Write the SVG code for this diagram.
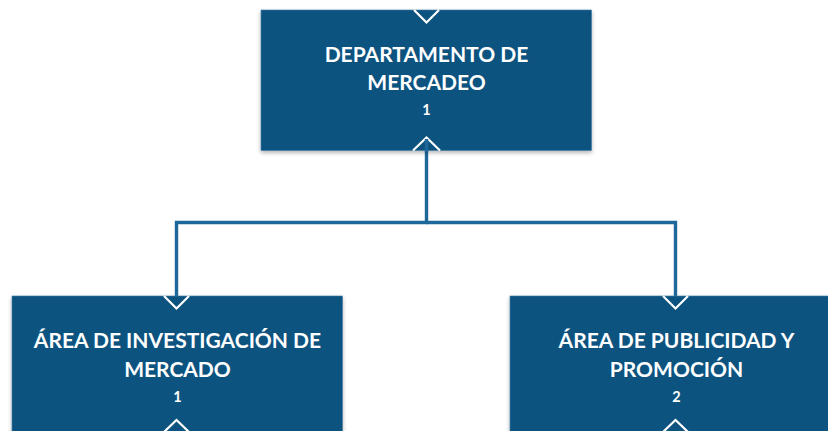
<svg xmlns="http://www.w3.org/2000/svg" width="828" height="431" viewBox="0 0 828 431">
<defs>
<style>
.box{fill:#11537f;stroke:#3f7aa3;stroke-width:0.6;filter:url(#sh)}
.chev{fill:none;stroke:#ffffff;stroke-width:2.2;stroke-linejoin:miter}
.conn{fill:none;stroke:#1d679a;stroke-width:3.4;stroke-linejoin:miter}
.t{font-family:Lato,"Liberation Sans",sans-serif;font-weight:bold;fill:#ffffff;text-anchor:middle;font-size:21px}
.n{font-family:Lato,"Liberation Sans",sans-serif;font-weight:bold;fill:#ffffff;text-anchor:middle;font-size:14.5px}
</style>
<filter id="sh" x="-5%" y="-5%" width="110%" height="115%">
<feGaussianBlur in="SourceAlpha" stdDeviation="2"/>
<feOffset dx="0" dy="2" result="b"/>
<feComponentTransfer><feFuncA type="linear" slope="0.3"/></feComponentTransfer>
<feMerge><feMergeNode/><feMergeNode in="SourceGraphic"/></feMerge>
</filter>
</defs>
<g id="connectors">
<path class="conn" d="M426.5,140 V222.5 H176.5 V306"/>
<path class="conn" d="M426.5,222.5 H675.5 V306"/>
</g>
<g id="node-departamento">
<rect class="box" x="261" y="10" width="330.5" height="140.5"/>
<polyline class="chev" points="414,10 426.5,22.5 439,10"/>
<polyline class="chev" points="413,150.5 426.5,137.5 440,150.5"/>
<path class="conn" d="M426.5,139 V152"/>
<text class="t" x="426.5" y="62">DEPARTAMENTO DE</text>
<text class="t" x="426.5" y="90">MERCADEO</text>
<text class="n" x="426.5" y="115">1</text>
</g>
<g id="node-investigacion">
<rect class="box" x="12" y="296" width="330.5" height="145"/>
<polyline class="chev" points="164,296 176.5,308.5 189,296"/>
<polyline class="chev" points="163,433 176.5,420 190,433"/>
<text class="t" x="177.5" y="348">ÁREA DE INVESTIGACIÓN DE</text>
<text class="t" x="177.5" y="376.5">MERCADO</text>
<text class="n" x="177.5" y="401.5">1</text>
</g>
<g id="node-publicidad">
<rect class="box" x="510" y="296" width="330.5" height="145"/>
<polyline class="chev" points="663,296 675.5,308.5 688,296"/>
<polyline class="chev" points="662,433 675.5,420 689,433"/>
<text class="t" x="676.5" y="348">ÁREA DE PUBLICIDAD Y</text>
<text class="t" x="676.5" y="376.5">PROMOCIÓN</text>
<text class="n" x="676.5" y="401.5">2</text>
</g>
</svg>
